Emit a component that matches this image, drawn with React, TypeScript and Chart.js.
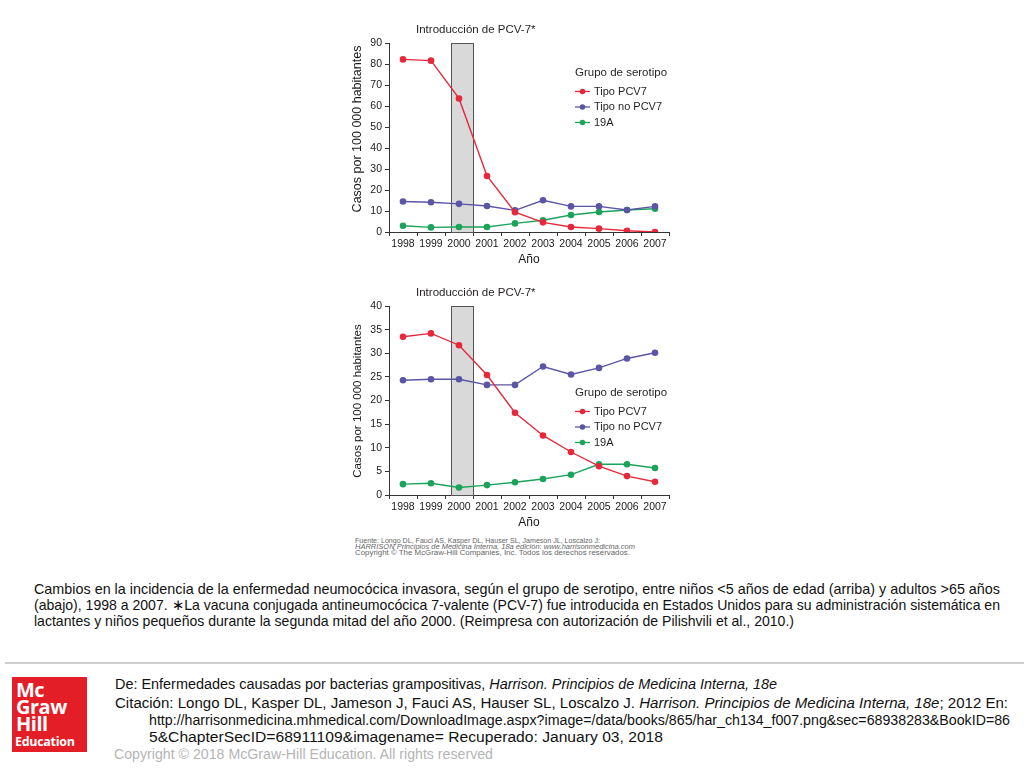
import React, { useEffect, useLayoutEffect, useRef } from 'react';
import { Chart, registerables } from 'chart.js';

Chart.register(...registerables);

const FONT = '"Liberation Sans", Arial, Helvetica, sans-serif';

// ---------- data ----------
const years = ['1998', '1999', '2000', '2001', '2002', '2003', '2004', '2005', '2006', '2007'];
const firstYear = 1998;

// Niños <5 años (arriba)
const ninosPCV7 = [82.2, 81.6, 63.6, 26.7, 9.4, 4.6, 2.4, 1.6, 0.6, 0.0];
const ninosNoPCV7 = [14.5, 14.2, 13.4, 12.4, 10.3, 15.1, 12.2, 12.2, 10.5, 12.2];
const ninos19A = [3.0, 2.2, 2.4, 2.4, 4.1, 5.6, 8.1, 9.5, 10.5, 11.1];

// Adultos >65 años (abajo)
const adultosPCV7 = [33.5, 34.2, 31.7, 25.4, 17.4, 12.6, 9.1, 6.1, 4.0, 2.8];
const adultosNoPCV7 = [24.3, 24.5, 24.5, 23.3, 23.3, 27.2, 25.5, 26.9, 28.9, 30.1];
const adultos19A = [2.3, 2.5, 1.6, 2.1, 2.7, 3.4, 4.3, 6.5, 6.5, 5.7];

const ninosYMax = 90;
const ninosYStep = 10;
const adultosYMax = 40;
const adultosYStep = 5;

// period of PCV-7 introduction (in years)
const introStart = 1999.7;
const introEnd = 2000.5;

const seriesNames = ['Tipo PCV7', 'Tipo no PCV7', '19A'];
const seriesColors = ['#e5283a', '#5b55a6', '#1ba35c'];
const legendTitle = 'Grupo de serotipo';
const introLabel = 'Introducción de PCV-7*';
const yTitle = 'Casos por 100 000 habitantes';
const xTitle = 'Año';

// ---------- chart panel ----------
type PanelProps = {
  left: number;
  top: number;
  values: number[][];
  yMax: number;
  yStep: number;
  legendY: number;
  yTitleY: number;
  yTitleSize: number;
};

function Panel({ left, top, values, yMax, yStep, legendY, yTitleY, yTitleSize }: PanelProps) {
  const ref = useRef<HTMLCanvasElement>(null);
  useEffect(() => {
    const canvas = ref.current;
    if (!canvas) return;
    const decor = {
      id: 'decor',
      beforeDatasetsDraw(chart: any) {
        const { ctx, chartArea, scales } = chart;
        const x = scales.x;
        const x0 = Math.round(x.getPixelForValue(introStart - firstYear)) + 0.5;
        const x1 = Math.round(x.getPixelForValue(introEnd - firstYear)) + 0.5;
        const t = Math.round(chartArea.top) + 0.5;
        const b = Math.round(chartArea.bottom) + 0.5;
        ctx.save();
        ctx.fillStyle = '#d9d9d9';
        ctx.fillRect(x0, t, x1 - x0, b - t);
        ctx.strokeStyle = '#555';
        ctx.lineWidth = 1;
        ctx.strokeRect(x0, t, x1 - x0, b - t);
        ctx.restore();
      },
      afterDraw(chart: any) {
        const { ctx, chartArea, scales } = chart;
        const x = scales.x;
        ctx.save();
        ctx.fillStyle = '#231f20';
        ctx.textBaseline = 'middle';
        ctx.textAlign = 'center';
        ctx.font = `11.5px ${FONT}`;
        const lx = x.getPixelForValue(introStart - firstYear + 0.9);
        ctx.fillText(introLabel, lx, chartArea.top - 13);
        // y axis title
        ctx.save();
        ctx.translate(18, yTitleY);
        ctx.rotate(-Math.PI / 2);
        ctx.font = `${yTitleSize}px ${FONT}`;
        ctx.fillStyle = '#1a1a1a';
        ctx.fillText(yTitle, 0, 0);
        ctx.restore();
        // legend
        const lgX = 235;
        ctx.textAlign = 'left';
        ctx.font = `11.5px ${FONT}`;
        ctx.fillText(legendTitle, lgX, legendY);
        ctx.font = `11px ${FONT}`;
        seriesNames.forEach((name, i) => {
          const yy = legendY + 18.5 + i * 15.5;
          ctx.strokeStyle = seriesColors[i];
          ctx.lineWidth = 1.3;
          ctx.beginPath();
          ctx.moveTo(lgX, yy);
          ctx.lineTo(lgX + 15, yy);
          ctx.stroke();
          ctx.fillStyle = seriesColors[i];
          ctx.beginPath();
          ctx.arc(lgX + 7.5, yy, 2.8, 0, Math.PI * 2);
          ctx.fill();
          ctx.fillStyle = '#231f20';
          ctx.fillText(name, lgX + 19, yy);
        });
        ctx.restore();
      },
    };
    const chart = new Chart(canvas, {
      type: 'line',
      data: {
        labels: years,
        datasets: values.map((v, i) => ({
          label: seriesNames[i],
          data: v,
          borderColor: seriesColors[i],
          backgroundColor: seriesColors[i],
          borderWidth: 1.4,
          pointRadius: 3.3,
          pointBorderWidth: 0,
          pointBackgroundColor: seriesColors[i],
          tension: 0,
          fill: false,
        })),
      },
      options: {
        responsive: false,
        animation: false,
        events: [],
        layout: { padding: { left: 0, right: 11, top: 21, bottom: 0 } },
        plugins: { legend: { display: false }, tooltip: { enabled: false } },
        scales: {
          x: {
            type: 'category',
            offset: true,
            grid: {
              offset: true,
              drawOnChartArea: false,
              drawTicks: true,
              tickLength: 4,
              color: '#333',
            },
            border: { display: true, color: '#333', width: 1 },
            ticks: {
              autoSkip: false,
              maxRotation: 0,
              minRotation: 0,
              padding: 2,
              color: '#1a1a1a',
              font: { family: FONT, size: 10.5 },
            },
            title: {
              display: true,
              text: xTitle,
              color: '#1a1a1a',
              font: { family: FONT, size: 12 },
              padding: { top: 0, bottom: 5 },
            },
            afterFit(scale: any) {
              scale.height = 40;
            },
          },
          y: {
            min: 0,
            max: yMax,
            grid: {
              drawOnChartArea: false,
              drawTicks: true,
              tickLength: 4,
              color: '#333',
            },
            border: { display: true, color: '#333', width: 1 },
            ticks: {
              stepSize: yStep,
              padding: 3,
              color: '#1a1a1a',
              font: { family: FONT, size: 10.5 },
            },
            title: { display: false },
            afterFit(scale: any) {
              scale.width = 49;
            },
          },
        },
      },
      plugins: [decor],
    });
    return () => chart.destroy();
  }, []);
  return (
    <canvas
      ref={ref}
      width={340}
      height={250}
      style={{ position: 'absolute', left, top, width: 340, height: 250 }}
    />
  );
}

// ---------- fitted text line ----------
type FitProps = {
  left: number;
  y: number;
  width: number;
  size: number;
  color?: string;
  family?: string;
  children: React.ReactNode;
};

function FitLine({ left, y, width, size, color = '#111', family = FONT, children }: FitProps) {
  const ref = useRef<HTMLDivElement>(null);
  useLayoutEffect(() => {
    const el = ref.current;
    if (!el) return;
    el.style.transform = 'none';
    const w = el.getBoundingClientRect().width;
    if (w > 0) el.style.transform = `scaleX(${width / w})`;
  }, []);
  return (
    <div
      ref={ref}
      style={{
        position: 'absolute',
        left,
        top: y - size * 0.6,
        fontSize: size,
        lineHeight: `${size * 1.2}px`,
        whiteSpace: 'nowrap',
        color,
        fontFamily: family,
        transformOrigin: '0 50%',
      }}
    >
      {children}
    </div>
  );
}

export default function App() {
  return (
    <div
      style={{
        position: 'fixed',
        left: 0,
        top: 0,
        width: 1024,
        height: 768,
        background: '#fff',
        overflow: 'hidden',
      }}
    >
      <Panel left={340} top={22} values={[ninosPCV7, ninosNoPCV7, ninos19A]} yMax={ninosYMax} yStep={ninosYStep} legendY={51} yTitleY={107} yTitleSize={12.5} />
      <Panel left={340} top={285} values={[adultosPCV7, adultosNoPCV7, adultos19A]} yMax={adultosYMax} yStep={adultosYStep} legendY={108} yTitleY={116} yTitleSize={11.5} />

      <FitLine left={355} y={541} width={245} size={7} color="#666">
        Fuente: Longo DL, Fauci AS, Kasper DL, Hauser SL, Jameson JL, Loscalzo J:
      </FitLine>
      <FitLine left={355} y={547} width={280} size={7} color="#666">
        <i>HARRISON Principios de Medicina Interna, 18a edición: www.harrisonmedicina.com</i>
      </FitLine>
      <FitLine left={355} y={553} width={275} size={7} color="#666">
        Copyright © The McGraw-Hill Companies, Inc. Todos los derechos reservados.
      </FitLine>

      <FitLine left={34} y={590} width={966} size={14.5}>
        Cambios en la incidencia de la enfermedad neumocócica invasora, según el grupo de serotipo, entre niños &lt;5 años de edad (arriba) y adultos &gt;65 años
      </FitLine>
      <FitLine left={34} y={606} width={966} size={14.5}>
        (abajo), 1998 a 2007. ∗La vacuna conjugada antineumocócica 7-valente (PCV-7) fue introducida en Estados Unidos para su administración sistemática en
      </FitLine>
      <FitLine left={34} y={622} width={760} size={14.5}>
        lactantes y niños pequeños durante la segunda mitad del año 2000. (Reimpresa con autorización de Pilishvili et al., 2010.)
      </FitLine>

      <div style={{ position: 'absolute', left: 5, top: 662, width: 1019, height: 2, background: '#cfcfcf' }} />

      <div
        style={{
          position: 'absolute',
          left: 12,
          top: 677,
          width: 75,
          height: 75,
          background: '#e31e26',
          color: '#fff',
          fontFamily: '"Open Sans", "Liberation Sans", sans-serif',
          fontWeight: 700,
        }}
      >
        <div style={{ position: 'absolute', left: 4, top: 4, fontSize: 20, lineHeight: '17px', letterSpacing: -0.5 }}>
          Mc
          <br />
          Graw
          <br />
          Hill
        </div>
        <div style={{ position: 'absolute', left: 3, top: 58, fontSize: 12.5, lineHeight: '14px', letterSpacing: -0.3 }}>
          Education
        </div>
      </div>

      <FitLine left={115} y={684} width={662} size={14}>
        De: Enfermedades causadas por bacterias grampositivas, <i>Harrison. Principios de Medicina Interna, 18e</i>
      </FitLine>
      <FitLine left={115} y={703} width={893} size={14}>
        Citación: Longo DL, Kasper DL, Jameson J, Fauci AS, Hauser SL, Loscalzo J. <i>Harrison. Principios de Medicina Interna, 18e</i>; 2012 En:
      </FitLine>
      <FitLine left={149} y={720} width={861} size={14}>
        http://harrisonmedicina.mhmedical.com/DownloadImage.aspx?image=/data/books/865/har_ch134_f007.png&amp;sec=68938283&amp;BookID=86
      </FitLine>
      <FitLine left={149} y={737} width={514} size={14}>
        5&amp;ChapterSecID=68911109&amp;imagename= Recuperado: January 03, 2018
      </FitLine>
      <FitLine left={114} y={754} width={379} size={14} color="#b5b5b5">
        Copyright © 2018 McGraw-Hill Education. All rights reserved
      </FitLine>
    </div>
  );
}
